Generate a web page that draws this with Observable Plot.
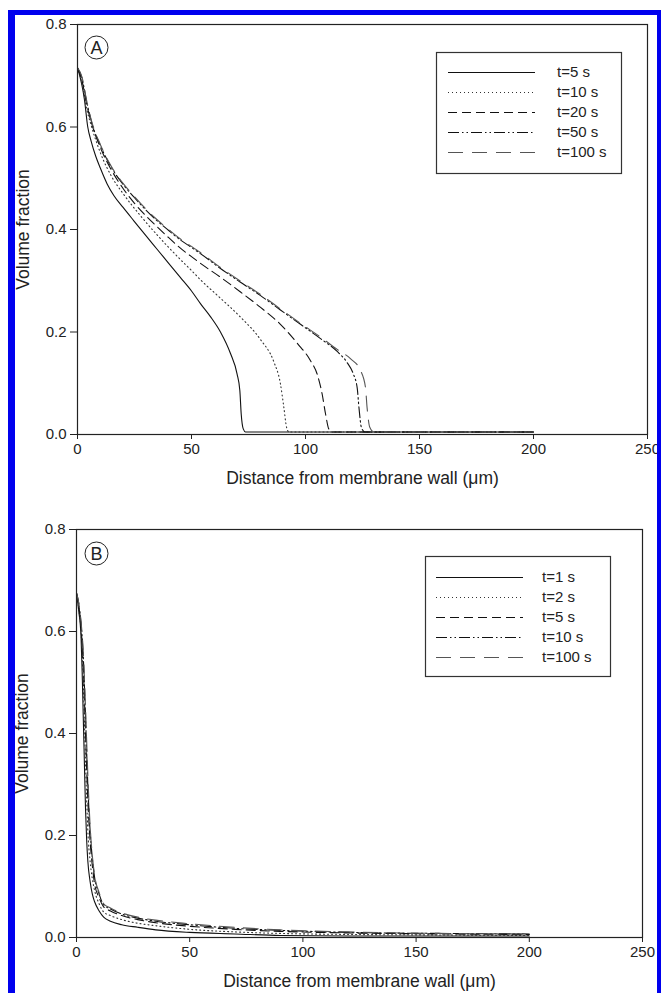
<!DOCTYPE html>
<html>
<head>
<meta charset="utf-8">
<script src="https://cdn.jsdelivr.net/npm/d3@7"></script>
<script src="https://cdn.jsdelivr.net/npm/@observablehq/plot@0.6"></script>
<style>
  html, body { margin: 0; padding: 0; background: #fff; }
  #page { position: relative; width: 661px; height: 993px; background: #fff; overflow: hidden;
          font-family: "Liberation Sans", Arial, sans-serif; }
  .blue { position: absolute; background: #0000ee; }
  .panel { position: absolute; left: 0; }
  .legend { position: absolute; left: 0; top: 0; pointer-events: none; }
</style>
</head>
<body>
<div id="page">
  <div id="pa" class="panel" style="top:0px"></div>
  <div id="pb" class="panel" style="top:505px"></div>
  <div class="blue" style="left:8px; top:10px; width:7px; height:983px"></div>
  <div class="blue" style="left:8px; top:10px; width:653px; height:5px"></div>
  <div class="blue" style="left:657px; top:10px; width:4px; height:983px"></div>
</div>
<script>
// ---------- Data ----------
const xTicks = [0, 50, 100, 150, 200, 250];
const yTicks = [0, 0.2, 0.4, 0.6, 0.8];
const labelsA = ["t=5 s", "t=10 s", "t=20 s", "t=50 s", "t=100 s"];
const labelsB = ["t=1 s", "t=2 s", "t=5 s", "t=10 s", "t=100 s"];

// Panel A: [distance (µm), volume fraction]
const a_t5 = [[0,.715],[1,.70],[2,.68],[3,.655],[4.5,.60],[6,.572],[8,.543],[10,.52],[13,.489],[16,.466],[20,.443],[24.7,.417],[30,.388],[35,.361],[40,.334],[45,.307],[50,.28],[54,.255],[58.3,.23],[62.7,.20],[67.1,.158],[70,.118],[71.2,.086],[71.8,.04],[72.7,.011],[73.7,.005],[200,.005]];
const a_t10 = [[0,.715],[2,.685],[4,.636],[6,.603],[10,.55],[15,.503],[20,.47],[27.6,.427],[35,.389],[40,.365],[45,.342],[50,.32],[53.9,.302],[62.7,.266],[71.5,.229],[80.3,.185],[86.1,.142],[89,.099],[90.5,.053],[91.7,.014],[92.7,.005],[200,.005]];
const a_t20 = [[0,.715],[2,.69],[4,.645],[6.4,.604],[10,.56],[15,.515],[20,.48],[25,.451],[30.6,.424],[35,.405],[40,.384],[45,.364],[50,.347],[53.9,.334],[62.7,.307],[71.5,.278],[80.3,.248],[89,.215],[96.4,.178],[102.2,.144],[105.1,.118],[107.3,.079],[108.8,.04],[110.2,.011],[111.7,.005],[200,.005]];
const a_t50 = [[0,.715],[2,.695],[4,.65],[6.4,.606],[10,.564],[15,.52],[20,.488],[25,.462],[30,.438],[34.2,.42],[40,.398],[45,.38],[50,.365],[53.9,.353],[62.7,.324],[71.5,.297],[80.3,.271],[89,.243],[97.8,.215],[106.6,.187],[113.9,.162],[118.3,.14],[121,.118],[122.7,.09],[123.5,.05],[124.5,.014],[126,.005],[200,.005]];
const a_t100 = [[0,.716],[2,.697],[4,.652],[6.4,.608],[10,.566],[15,.522],[20,.49],[25,.464],[30,.44],[34.2,.422],[40,.40],[45,.382],[50,.367],[53.9,.355],[62.7,.326],[71.5,.299],[80.3,.273],[89,.245],[97.8,.217],[106.6,.19],[113.9,.166],[119.7,.148],[124.1,.125],[126.3,.092],[127,.053],[128.2,.014],[130,.005],[200,.005]];

// Panel B
const b_t1 = [[0,.675],[1,.64],[2,.59],[2.5,.52],[3,.43],[3.5,.34],[4,.25],[4.5,.19],[5,.15],[6,.11],[7,.085],[8,.07],[10,.052],[12,.04],[15,.032],[20,.025],[27,.02],[35,.015],[50,.01],[70,.007],[90,.004],[120,.003],[160,.003],[200,.003]];
const b_t2 = [[0,.675],[1,.645],[2,.60],[3,.50],[3.5,.42],[4,.34],[4.5,.27],[5,.21],[6,.15],[7,.115],[8,.092],[10,.066],[12,.05],[15,.043],[20,.035],[27,.028],[35,.023],[50,.016],[70,.011],[90,.008],[120,.006],[160,.005],[200,.004]];
const b_t5 = [[0,.675],[1,.65],[2,.61],[3,.53],[4,.40],[4.5,.33],[5,.27],[6,.19],[7,.14],[8,.105],[10,.078],[12,.06],[15,.052],[20,.043],[27,.035],[35,.029],[50,.022],[70,.016],[90,.012],[120,.009],[160,.007],[200,.006]];
const b_t10 = [[0,.675],[1,.655],[2,.615],[3,.55],[4,.43],[5,.30],[6,.21],[7,.155],[8,.118],[10,.085],[12,.064],[15,.056],[20,.046],[27,.038],[35,.032],[50,.025],[70,.018],[90,.014],[120,.010],[160,.008],[200,.007]];
const b_t100 = [[0,.675],[1,.656],[2,.62],[3,.56],[4,.45],[5,.32],[6,.22],[7,.16],[8,.122],[10,.088],[12,.066],[15,.058],[20,.048],[27,.04],[35,.034],[50,.027],[70,.02],[90,.015],[120,.011],[160,.008],[200,.007]];

// ---------- Styles ----------
const FONT = "Liberation Sans, Arial, sans-serif";
const styles = [
  {stroke: "#111", dash: null, width: 1.1},
  {stroke: "#333", dash: "1,3", width: 1.1},
  {stroke: "#111", dash: "9,5", width: 1.1},
  {stroke: "#111", dash: "11,3,1.5,3,1.5,3", width: 1.1},
  {stroke: "#555", dash: "15,9", width: 1.1}
];

function table(series) {
  return series.map((pts, i) => pts.map(([x, y]) => ({x, y, s: i}))).flat();
}

function panel(series, letter, opts) {
  const rows = table(series);
  const marks = [];
  styles.forEach((st, i) => {
    marks.push(Plot.line(rows.filter(d => d.s === i), {
      x: "x", y: "y", stroke: st.stroke, strokeWidth: st.width,
      strokeDasharray: st.dash, curve: "monotone-x"
    }));
  });
  marks.push(Plot.frame({stroke: "#222", strokeWidth: 1.2}));
  marks.push(Plot.axisX(xTicks, {tickSize: 5, tickPadding: 4, fontSize: 15, label: null}));
  marks.push(Plot.axisX({ticks: [], tickSize: 0, fontSize: 17.5,
    label: "Distance from membrane wall (μm)", labelAnchor: "center", labelArrow: "none", labelOffset: 49}));
  marks.push(Plot.axisY(yTicks, {tickSize: 7, tickPadding: 4, fontSize: 15, tickFormat: d3.format(".1f"), label: null}));
  marks.push(Plot.axisY({ticks: [], tickSize: 0, fontSize: 17.5,
    label: "Volume fraction", labelAnchor: "center", labelArrow: "none", labelOffset: 61}));
  marks.push(Plot.dot([letter], {frameAnchor: "top-left", dx: opts.cdx, dy: opts.cdy, r: 11.5, stroke: "#222", strokeWidth: 1, fill: "none"}));
  marks.push(Plot.text([letter], {text: d => d, frameAnchor: "top-left", textAnchor: "middle", lineAnchor: "middle",
    dx: opts.cdx, dy: opts.cdy + 0.5, fontSize: 18, fill: "#222"}));
  return Plot.plot({
    width: 661, height: opts.height,
    marginLeft: opts.ml, marginRight: opts.mr, marginTop: 24, marginBottom: opts.mb,
    x: {domain: [0, 250]},
    y: {domain: [0, 0.8]},
    style: {fontFamily: FONT, fontSize: "15px", color: "#222", background: "transparent", overflow: "visible"},
    marks
  });
}

const plotA = panel([a_t5, a_t10, a_t20, a_t50, a_t100], "A", {height: 500, ml: 77, mr: 14, mb: 66, cdx: 19, cdy: 23});
const plotB = panel([b_t1, b_t2, b_t5, b_t10, b_t100], "B", {height: 488, ml: 76, mr: 19, mb: 56, cdx: 20, cdy: 24});
document.getElementById("pa").appendChild(plotA);
document.getElementById("pb").appendChild(plotB);

// ---------- Legends (overlay) ----------
function legend(labels, box, lineX0, lineX1, textX, rowY0, rowStep) {
  const svg = d3.select("#page").append("svg").attr("class", "legend")
    .attr("width", 661).attr("height", 993);
  svg.append("rect").attr("x", box[0] + 0.5).attr("y", box[1] + 0.5)
    .attr("width", box[2] - box[0]).attr("height", box[3] - box[1])
    .attr("fill", "#fff").attr("stroke", "#333").attr("stroke-width", 1.2);
  labels.forEach((lab, i) => {
    const y = rowY0 + i * rowStep;
    const st = styles[i];
    svg.append("line").attr("x1", lineX0).attr("x2", lineX1).attr("y1", y + 0.5).attr("y2", y + 0.5)
      .attr("stroke", st.stroke).attr("stroke-width", st.width)
      .attr("stroke-dasharray", st.dash);
    svg.append("text").attr("x", textX).attr("y", y).attr("dy", "0.35em")
      .attr("font-family", FONT).attr("font-size", 15).attr("fill", "#222").text(lab);
  });
}
legend(labelsA, [436, 52, 621, 173], 448, 535, 557, 72, 20);
legend(labelsB, [425, 556, 610, 676], 436, 523, 542, 577, 20);
</script>
</body>
</html>
